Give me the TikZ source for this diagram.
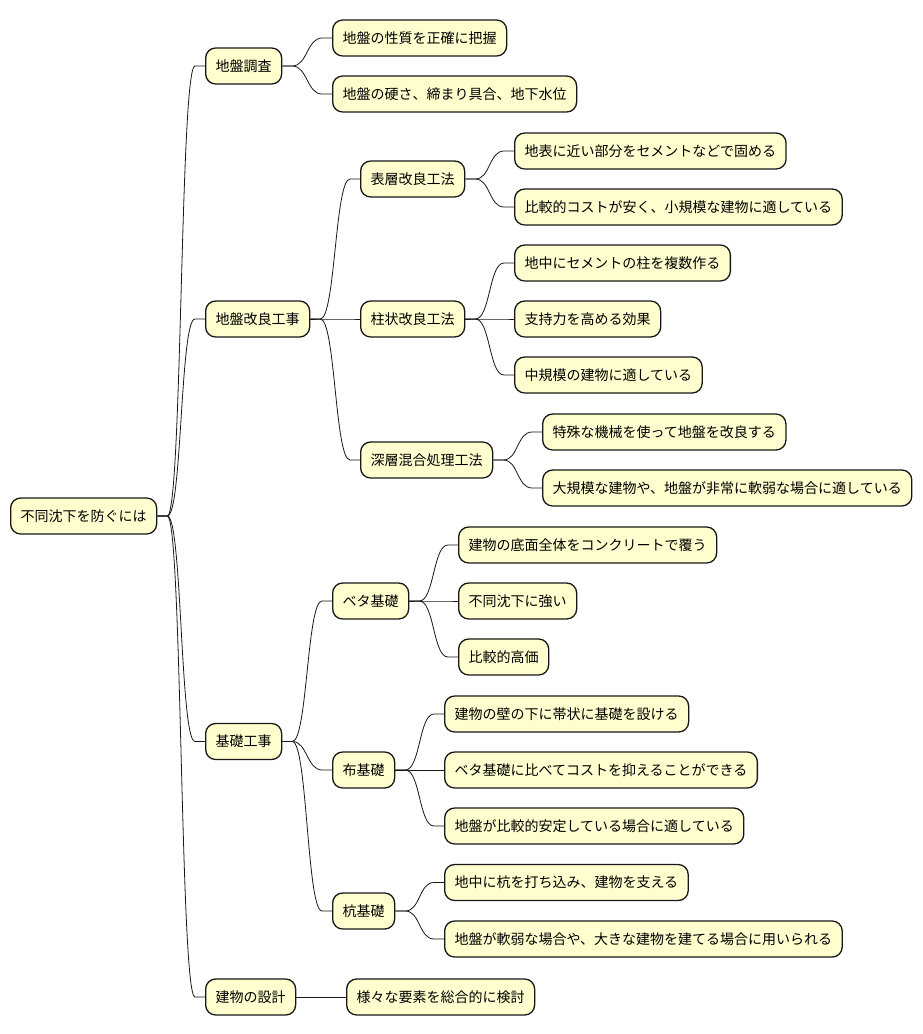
\documentclass[tikz,border=0pt]{standalone}
\usepackage{fontspec}
\newfontfamily\jpfont{Noto Sans CJK JP}
\definecolor{boxfill}{RGB}{254,254,206}
\definecolor{linecol}{RGB}{24,24,24}

\tikzset{
  topic/.style={draw=linecol, fill=boxfill, line width=1.3pt, rounded corners=10pt,
    minimum height=36pt, inner xsep=10pt, inner ysep=0pt, anchor=west,
    font=\jpfont\fontsize{14}{17}\selectfont},
  branch/.style={draw=linecol, line width=0.8pt,
    to path={-- ++(10pt,0) .. controls +(15pt,0) and +(-15pt,0) .. ([xshift=-10pt]\tikztotarget) -- (\tikztotarget)}}
}

\begin{document}
\begin{tikzpicture}[x=1pt,y=-1pt]
    \fill[white] (0,0) rectangle (922,1034);
    \useasboundingbox (0,0) rectangle (922,1034);

    % root and first level
    \node[topic] (root) at (10,516) {不同沈下を防ぐには};
    \node[topic] (survey) at (205,66) {地盤調査};
    \node[topic] (improve) at (205,319) {地盤改良工事};
    \node[topic] (found) at (205,741.5) {基礎工事};
    \node[topic] (design) at (205,997) {建物の設計};

    % ground survey
    \node[topic] (survey1) at (332,38) {地盤の性質を正確に把握};
    \node[topic] (survey2) at (332,94) {地盤の硬さ、締まり具合、地下水位};

    % ground improvement
    \node[topic] (surface) at (360,179) {表層改良工法};
    \node[topic] (column) at (360,319) {柱状改良工法};
    \node[topic] (deep) at (360,460) {深層混合処理工法};
    \node[topic] (surface1) at (514,151) {地表に近い部分をセメントなどで固める};
    \node[topic] (surface2) at (514,207) {比較的コストが安く、小規模な建物に適している};
    \node[topic] (column1) at (514,263) {地中にセメントの柱を複数作る};
    \node[topic] (column2) at (514,319) {支持力を高める効果};
    \node[topic] (column3) at (514,375) {中規模の建物に適している};
    \node[topic] (deep1) at (542,432) {特殊な機械を使って地盤を改良する};
    \node[topic] (deep2) at (542,488) {大規模な建物や、地盤が非常に軟弱な場合に適している};

    % foundations
    \node[topic] (mat) at (332,601) {ベタ基礎};
    \node[topic] (strip) at (332,770) {布基礎};
    \node[topic] (pile) at (332,911) {杭基礎};
    \node[topic] (mat1) at (458,545) {建物の底面全体をコンクリートで覆う};
    \node[topic] (mat2) at (458,601) {不同沈下に強い};
    \node[topic] (mat3) at (458,657) {比較的高価};
    \node[topic] (strip1) at (444,714) {建物の壁の下に帯状に基礎を設ける};
    \node[topic] (strip2) at (444,770) {ベタ基礎に比べてコストを抑えることができる};
    \node[topic] (strip3) at (444,826) {地盤が比較的安定している場合に適している};
    \node[topic] (pile1) at (444,882.5) {地中に杭を打ち込み、建物を支える};
    \node[topic] (pile2) at (444,939) {地盤が軟弱な場合や、大きな建物を建てる場合に用いられる};

    % design
    \node[topic] (design1) at (346,997) {様々な要素を総合的に検討};

    \foreach \a/\b in {root/survey, root/improve, root/found, root/design,
        survey/survey1, survey/survey2,
        improve/surface, improve/column, improve/deep,
        surface/surface1, surface/surface2,
        column/column1, column/column2, column/column3,
        deep/deep1, deep/deep2,
        found/mat, found/strip, found/pile,
        mat/mat1, mat/mat2, mat/mat3,
        strip/strip1, strip/strip2, strip/strip3,
        pile/pile1, pile/pile2,
        design/design1} {
        \draw[branch] (\a.east) to (\b.west);
    }
\end{tikzpicture}
\end{document}
